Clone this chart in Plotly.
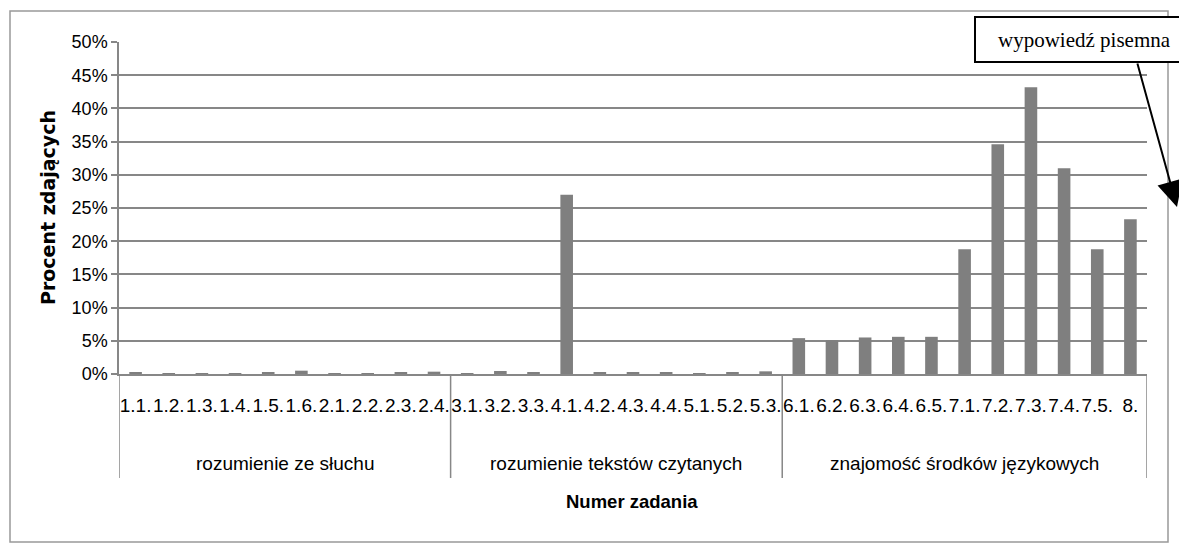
import plotly.graph_objects as go

groups = ["rozumienie ze słuchu"] * 10 + ["rozumienie tekstów czytanych"] * 10 + ["znajomość środków językowych"] * 11
tasks = ["1.1.", "1.2.", "1.3.", "1.4.", "1.5.", "1.6.", "2.1.", "2.2.", "2.3.", "2.4.",
         "3.1.", "3.2.", "3.3.", "4.1.", "4.2.", "4.3.", "4.4.", "5.1.", "5.2.", "5.3.",
         "6.1.", "6.2.", "6.3.", "6.4.", "6.5.", "7.1.", "7.2.", "7.3.", "7.4.", "7.5.", "8."]
values = [0.2, 0.1, 0.1, 0.1, 0.2, 0.5, 0.1, 0.1, 0.2, 0.35,
          0.1, 0.45, 0.3, 27.0, 0.25, 0.2, 0.3, 0.15, 0.3, 0.4,
          5.4, 5.1, 5.5, 5.6, 5.6, 18.8, 34.6, 43.2, 31.0, 18.8, 23.3]

y_ticks = [0, 5, 10, 15, 20, 25, 30, 35, 40, 45, 50]

SANS = "Liberation Sans, Arial, sans-serif"
GRID = "#878787"

# page body has an 8px margin; work in screen pixels and subtract it
OFF = 8
W, H = 1187 - OFF, 544 - OFF
L = 119 - OFF
T = 42 - OFF
R = W - (1147 - OFF)
B = H - (374 - OFF)
PW, PH = W - L - R, H - T - B

def px(x):
    return (x - OFF - L) / PW

def py(y):
    return (H - B - (y - OFF)) / PH

fig = go.Figure()
fig.add_trace(go.Bar(
    x=tasks, y=values,
    marker=dict(color="#7f7f7f", line=dict(width=0)),
    showlegend=False,
))

# group boundaries and centres, derived from the group list
bounds = [-0.5]
centres = []
names = []
start = 0
for i in range(1, len(groups) + 1):
    if i == len(groups) or groups[i] != groups[start]:
        bounds.append(i - 0.5)
        centres.append((start + i - 1) / 2)
        names.append(groups[start])
        start = i

shapes = [
    dict(type="line", xref="x", yref="paper", x0=b, x1=b, y0=0, y1=py(478),
         line=dict(color=GRID, width=1.5))
    for b in bounds
]
shapes += [
    dict(type="rect", xref="paper", yref="paper",
         x0=px(10), x1=px(1168), y0=py(542), y1=py(11),
         line=dict(color="#999999", width=1.5), fillcolor="rgba(0,0,0,0)", layer="above"),
    dict(type="rect", xref="paper", yref="paper",
         x0=px(975), x1=px(1195), y0=py(62), y1=py(17),
         line=dict(color="black", width=2), fillcolor="white", layer="above"),
]

annotations = [
    dict(text=n, xref="x", yref="paper", x=c, y=py(463), showarrow=False,
         font=dict(family=SANS, size=19, color="black"), xanchor="center", yanchor="middle")
    for n, c in zip(names, centres)
]
annotations += [
    dict(text="Procent zdających", xref="paper", yref="paper",
         x=px(48), y=py(208), textangle=-90, showarrow=False,
         font=dict(family="DejaVu Sans", size=19, color="black", weight="bold"),
         xanchor="center", yanchor="middle"),
    dict(text="<b>Numer zadania</b>", xref="paper", yref="paper",
         x=px(632), y=py(502), showarrow=False,
         font=dict(family=SANS, size=18.5, color="black"),
         xanchor="center", yanchor="middle"),
    dict(text="wypowiedź pisemna", xref="paper", yref="paper",
         x=px(1084), y=py(40), showarrow=False,
         font=dict(family="Liberation Serif, Times New Roman, serif", size=21, color="black"),
         xanchor="center", yanchor="middle"),
    dict(text="", xref="paper", yref="paper",
         x=px(1177), y=py(207), ax=1137 - 1177, ay=62 - 207,
         showarrow=True, arrowhead=2, arrowsize=2.6, arrowwidth=2, arrowcolor="black"),
]

fig.update_layout(
    width=W, height=H,
    margin=dict(l=L, r=R, t=T, b=B, autoexpand=False),
    paper_bgcolor="white", plot_bgcolor="white",
    bargap=0.62,
    font=dict(family=SANS, size=19, color="black"),
    xaxis=dict(
        type="category",
        range=[-0.5, len(tasks) - 0.5],
        showline=True, linecolor=GRID, linewidth=1.5,
        showgrid=False, ticks="",
        tickfont=dict(family=SANS, size=19, color="black"),
        tickangle=0, ticklabelstandoff=13,
    ),
    yaxis=dict(
        range=[0, 50], tickvals=y_ticks, ticktext=[f"{v}%" for v in y_ticks],
        showgrid=True, gridcolor=GRID, gridwidth=1.5,
        showline=True, linecolor=GRID, linewidth=1.5,
        ticks="outside", ticklen=6, tickcolor=GRID, tickwidth=1.5,
        tickfont=dict(family=SANS, size=18, color="black"),
        zeroline=False,
    ),
    shapes=shapes,
    annotations=annotations,
)

fig.write_html("out.html")
